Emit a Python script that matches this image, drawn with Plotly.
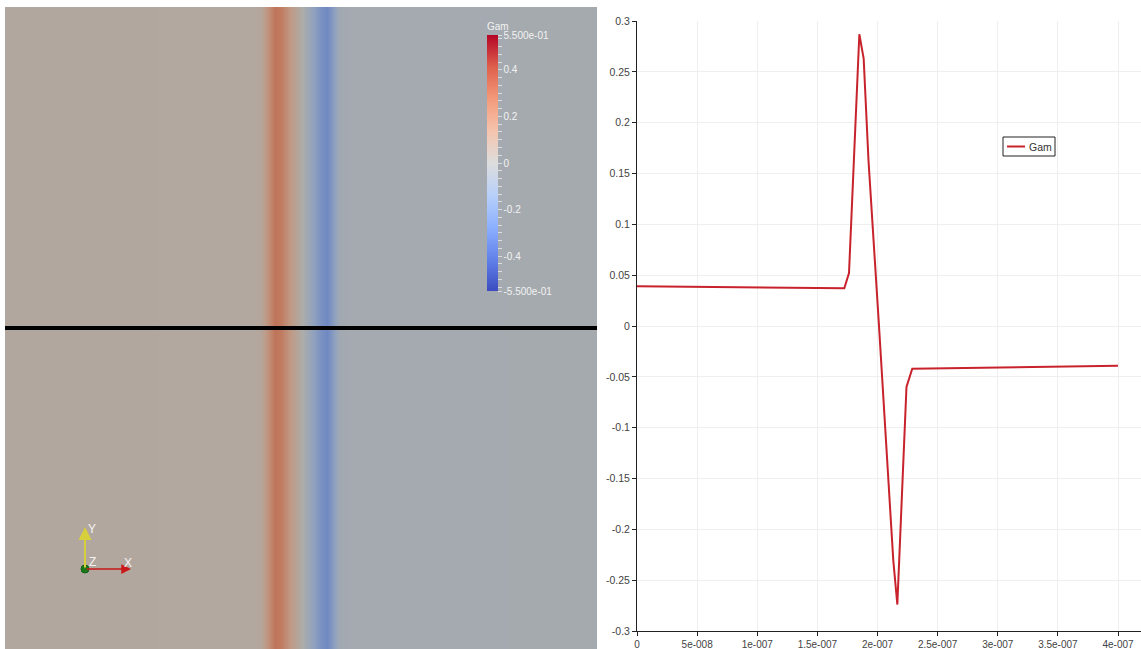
import plotly.graph_objects as go

W, H = 1141, 649

# ---- data: Gam sampled along the line ----
x_pos = [0.0, 1.724e-7, 1.763e-7, 1.849e-7, 1.885e-7, 1.925e-7, 2.012e-7,
         2.076e-7, 2.131e-7, 2.165e-7, 2.241e-7, 2.289e-7, 4.0e-7]
gam = [0.0390, 0.0372, 0.0520, 0.2870, 0.2630, 0.1630, 0.0010,
       -0.1190, -0.2300, -0.2740, -0.0600, -0.0420, -0.0390]

x_tick_vals = [0, 5e-8, 1e-7, 1.5e-7, 2e-7, 2.5e-7, 3e-7, 3.5e-7, 4e-7]
x_tick_text = ["0", "5e-008", "1e-007", "1.5e-007", "2e-007", "2.5e-007",
               "3e-007", "3.5e-007", "4e-007"]
y_tick_vals = [0.3, 0.25, 0.2, 0.15, 0.1, 0.05, 0, -0.05, -0.1, -0.15, -0.2, -0.25, -0.3]
y_tick_text = ["0.3", "0.25", "0.2", "0.15", "0.1", "0.05", "0", "-0.05", "-0.1",
               "-0.15", "-0.2", "-0.25", "-0.3"]

cb_label_vals = [0.55, 0.4, 0.2, 0, -0.2, -0.4, -0.55]
cb_label_text = ["5.500e-01", "0.4", "0.2", "0", "-0.2", "-0.4", "-5.500e-01"]

series_name = "Gam"

# Cool-to-warm colormap
ctw = [(0.0, (59, 76, 192)), (0.125, (98, 130, 234)), (0.25, (141, 176, 254)),
       (0.375, (184, 208, 249)), (0.5, (221, 221, 221)), (0.625, (245, 196, 173)),
       (0.75, (244, 154, 123)), (0.875, (222, 96, 77)), (1.0, (180, 4, 38))]


def scale(f, warm=(1.0, 1.0, 1.0)):
    out = []
    for t, rgb in ctw:
        c = [min(255, round(v * f * w)) for v, w in zip(rgb, warm)]
        out.append([t, "rgb(%d,%d,%d)" % tuple(c)])
    return out


px2x = lambda p: p / W
px2y = lambda p: 1 - p / H

AX_FONT = "Liberation Sans, Arial, sans-serif"

fig = go.Figure()

# ---- left render view: field as shaded heatmap ----
fig.add_trace(go.Heatmap(
    x=x_pos, y=[0, 1], z=[gam, gam], zmin=-0.55, zmax=0.55,
    colorscale=scale(0.785, (1.0, 0.995, 0.975)), zsmooth="best", showscale=False,
    xaxis="x2", yaxis="y2", hoverinfo="skip"))

# colorbar (unshaded lookup table)
minor = [round(k / 30, 4) for k in range(-16, 17)]
cb_vals = cb_label_vals + [v for v in minor if all(abs(v - c) > 1e-3 for c in cb_label_vals)]
cb_text = cb_label_text + [""] * (len(cb_vals) - len(cb_label_vals))
fig.add_trace(go.Scatter(
    x=[2e-7], y=[0.5], mode="markers", xaxis="x2", yaxis="y2", showlegend=False,
    hoverinfo="skip",
    marker=dict(size=1, opacity=0, color=[0], cmin=-0.55, cmax=0.55,
                colorscale=scale(1.0), showscale=True,
                colorbar=dict(
                    x=px2x(487), xanchor="left", xpad=0, ypad=0,
                    y=px2y(19), yanchor="top",
                    lenmode="pixels", len=272, thicknessmode="pixels", thickness=11,
                    outlinewidth=0, ticks="outside", ticklen=4, tickcolor="#dddddd",
                    tickvals=cb_vals, ticktext=cb_text,
                    tickfont=dict(family=AX_FONT, size=10, color="#f2f2f2"),
                    title=dict(text="Gam", side="top",
                               font=dict(family=AX_FONT, size=10, color="#f2f2f2"))))))

# ---- right line chart ----
fig.add_trace(go.Scatter(
    x=x_pos, y=gam, mode="lines", name=series_name, showlegend=False,
    line=dict(color="#c8232c", width=2), xaxis="x", yaxis="y"))

fig.update_layout(
    width=W, height=H, margin=dict(l=0, r=0, t=0, b=0, autoexpand=False),
    paper_bgcolor="white", plot_bgcolor="white", showlegend=False,
    font=dict(family=AX_FONT, size=10, color="#333333"),
    xaxis=dict(domain=[px2x(637), 1.0], range=[0, (W - 637) / 120.25 * 1e-7],
               tickvals=x_tick_vals, ticktext=x_tick_text, automargin=False,
               showline=True, linecolor="#222222", linewidth=1,
               ticks="outside", ticklen=4, tickcolor="#222222",
               showgrid=True, gridcolor="#efefef", zeroline=False,
               anchor="y", tickfont=dict(family=AX_FONT, size=10, color="#444444")),
    yaxis=dict(domain=[px2y(631), px2y(21)], range=[-0.3, 0.3],
               tickvals=y_tick_vals, ticktext=y_tick_text, automargin=False,
               showline=True, linecolor="#222222", linewidth=1,
               ticks="outside", ticklen=4, tickcolor="#222222",
               showgrid=True, gridcolor="#efefef", zeroline=False,
               anchor="x", tickfont=dict(family=AX_FONT, size=10.5, color="#444444")),
    xaxis2=dict(domain=[px2x(5), px2x(597)], range=[0.207e-7, 3.807e-7],
                visible=False, anchor="y2", automargin=False),
    yaxis2=dict(domain=[0, px2y(7)], range=[0, 1], visible=False, anchor="x2",
                automargin=False),
)

# legend box (manual, compact like the reference)
fig.add_shape(type="rect", xref="paper", yref="paper",
              x0=px2x(1003), x1=px2x(1055), y0=px2y(156), y1=px2y(137),
              fillcolor="white", line=dict(color="#222222", width=1))
fig.add_shape(type="line", xref="paper", yref="paper",
              x0=px2x(1007), x1=px2x(1025), y0=px2y(146.5), y1=px2y(146.5),
              line=dict(color="#c8232c", width=2))
fig.add_annotation(xref="paper", yref="paper", x=px2x(1027), y=px2y(146.5),
                   text=series_name, showarrow=False, xanchor="left", yanchor="middle",
                   font=dict(family=AX_FONT, size=10.5, color="#333333"))

# black probe line across the render view
fig.add_shape(type="line", xref="paper", yref="paper",
              x0=px2x(5), x1=px2x(597), y0=px2y(328), y1=px2y(328),
              line=dict(color="black", width=4))

# orientation axes triad
ox, oy = 85, 569
fig.add_annotation(xref="paper", yref="paper", x=px2x(ox), y=px2y(527),
                   ax=0, ay=oy - 527, axref="pixel", ayref="pixel", text="",
                   showarrow=True, arrowhead=2, arrowsize=1.3, arrowwidth=2,
                   arrowcolor="#d8cf3c")
fig.add_annotation(xref="paper", yref="paper", x=px2x(131), y=px2y(oy),
                   ax=-(131 - ox), ay=0, text="", showarrow=True, arrowhead=2,
                   arrowsize=1.3, arrowwidth=1.5, arrowcolor="#c81818")
fig.add_shape(type="circle", xref="paper", yref="paper",
              x0=px2x(ox - 4), x1=px2x(ox + 4), y0=px2y(oy + 4), y1=px2y(oy - 4),
              fillcolor="#1a7a1a", line=dict(color="#0f5f0f", width=1))
for txt, px, py in [("Y", 92, 529), ("X", 128, 563), ("Z", 92, 562)]:
    fig.add_annotation(xref="paper", yref="paper", x=px2x(px), y=px2y(py),
                       text=txt, showarrow=False, xanchor="center", yanchor="middle",
                       font=dict(family=AX_FONT, size=12, color="#f4f4f4"))

page_fix = (
    "var de=document.documentElement, b=document.body;"
    "de.style.margin='0';de.style.padding='0';de.style.overflow='hidden';"
    "b.style.margin='0';b.style.padding='0';b.style.overflow='hidden';"
)

fig.write_html("out.html", config={"displayModeBar": False}, post_script=page_fix)
